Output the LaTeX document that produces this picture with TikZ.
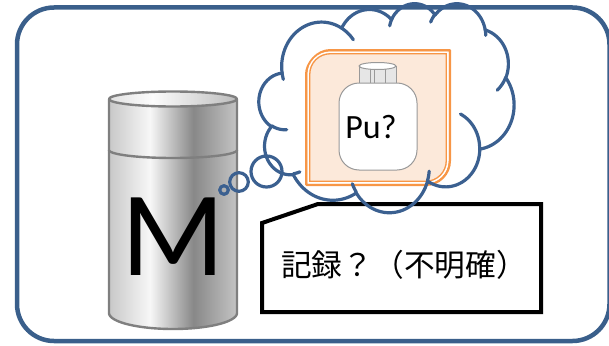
\documentclass[tikz,border=0pt]{standalone}
\usepackage{fontspec}
\newfontfamily\latinfont{Carlito}
\newfontfamily\jpfont{Noto Sans CJK JP}

\definecolor{frameblue}{HTML}{3A5F8B}
\definecolor{cloudblue}{HTML}{3B6090}
\definecolor{boxorange}{HTML}{F79646}
\definecolor{boxfill}{HTML}{FCE9DA}
\definecolor{cylA}{HTML}{C8C8C8}
\definecolor{cylB}{HTML}{F7F7F7}
\definecolor{cylC}{HTML}{888888}
\definecolor{cylD}{HTML}{C4C4C4}
\definecolor{topA}{HTML}{E2E2E2}
\definecolor{topB}{HTML}{FCFCFC}
\definecolor{topC}{HTML}{BDBDBD}
\definecolor{cylline}{HTML}{7F7F7F}
\definecolor{capgray}{HTML}{E6E6E6}

% metallic side and top of the drum
\pgfdeclarehorizontalshading{cylbody}{100bp}{color(0bp)=(cylA); color(25bp)=(cylA); color(41bp)=(cylB); color(58bp)=(cylC); color(75bp)=(cylD); color(100bp)=(cylD)}
\pgfdeclarehorizontalshading{cyltop}{100bp}{color(0bp)=(topA); color(25bp)=(topA); color(42bp)=(topB); color(75bp)=(topC); color(100bp)=(topC)}

% ---- cloud outline built from elliptical arcs (units of 1/100 of the 43200 grid)
\newcommand\cldL{259}
\newcommand\cldT{3}
\pgfmathsetmacro\cldsx{255/432}
\pgfmathsetmacro\cldsy{209/432}
% #1 path macro, #2 connector, #3 wR, #4 hR, #5 start angle, #6 sweep
\newcommand\cldarc[6]{%
  \pgfmathsetmacro\cldta{atan2((#3)*sin(#5),(#4)*cos(#5))}%
  \pgfmathsetmacro\cldtb{atan2((#3)*sin((#5)+(#6)),(#4)*cos((#5)+(#6)))}%
  \pgfmathsetmacro\cldts{\cldtb-\cldta}%
  \pgfmathsetmacro\cldts{((#6)>0 && \cldts<0) ? \cldts+360 : (((#6)<0 && \cldts>0) ? \cldts-360 : \cldts)}%
  \pgfmathsetmacro\cldcx{\cldpx-(#3)*cos(\cldta)}%
  \pgfmathsetmacro\cldcy{\cldpy-(#4)*sin(\cldta)}%
  \pgfmathsetmacro\cldpx{\cldcx+(#3)*cos(\cldta+\cldts)}%
  \pgfmathsetmacro\cldpy{\cldcy+(#4)*sin(\cldta+\cldts)}%
  \pgfmathsetmacro\cldCX{\cldL+\cldsx*\cldcx}%
  \pgfmathsetmacro\cldCY{\cldT+\cldsy*\cldcy}%
  \pgfmathsetmacro\cldRX{\cldsx*(#3)}%
  \pgfmathsetmacro\cldRY{\cldsy*(#4)}%
  \pgfmathsetmacro\cldte{\cldta+\cldts}%
  \edef#1{\unexpanded\expandafter{#1} #2 plot[domain=\cldta:\cldte,samples=30] ({\cldCX+\cldRX*cos(\noexpand\x)},{\cldCY+\cldRY*sin(\noexpand\x)})}%
}
\newcommand\cldfrom[2]{\def\cldpx{#1}\def\cldpy{#2}}

\cldfrom{39}{143.7}
\pgfmathsetmacro\cldSX{\cldL+\cldsx*\cldpx}
\pgfmathsetmacro\cldSY{\cldT+\cldsy*\cldpy}
\edef\cldmain{(\cldSX,\cldSY)}
\cldarc{\cldmain}{--}{67.53}{91.90}{-190.48748}{123.78053}
\cldarc{\cldmain}{--}{53.33}{72.67}{-144.10238}{89.94523}
\cldarc{\cldmain}{--}{43.65}{59.45}{-145.80792}{99.72302}
\cldarc{\cldmain}{--}{48.57}{65.95}{-130.98607}{117.24173}
\cldarc{\cldmain}{--}{53.33}{72.73}{-78.70888}{109.02692}
\cldarc{\cldmain}{--}{67.75}{92.20}{-46.26725}{130.269}
\cldarc{\cldmain}{--}{57.85}{78.67}{0.62502}{114.03333}
\cldarc{\cldmain}{--}{67.52}{92.15}{22.4516}{115.17255}
\cldarc{\cldmain}{--}{77.20}{105.43}{66.24263}{75.71102}
\cldarc{\cldmain}{--}{43.60}{59.18}{-274.94208}{146.73557}
\cldarc{\cldmain}{--}{43.45}{59.45}{-246.8285}{152.51885}

% inner folds of the cloud
\def\cldfold{}
\cldfrom{46.93}{261.77}\cldarc{\cldfold}{}{43.45}{59.45}{86.742}{26.4295}
\cldfrom{69.28}{348.99}\cldarc{\cldfold}{}{43.60}{59.18}{73.61047}{11.44747}
\cldfrom{164.78}{390.90}\cldarc{\cldfold}{}{67.52}{92.15}{137.62415}{14.0811}
\cldfrom{288.27}{347.51}\cldarc{\cldfold}{}{67.52}{92.15}{6.45327}{15.99835}
\cldfrom{341.29}{229.54}\cldarc{\cldfold}{}{57.85}{78.67}{-70.29235}{70.91737}
\cldfrom{417.98}{153.54}\cldarc{\cldfold}{}{53.33}{72.73}{30.31803}{27.7515}
\cldfrom{383.24}{54.26}\cldarc{\cldfold}{}{48.57}{65.95}{-13.74433}{14.8589}
\cldfrom{290.78}{39.52}\cldarc{\cldfold}{}{48.57}{65.95}{-149.18145}{18.19537}
\cldfrom{221.41}{47.20}\cldarc{\cldfold}{}{43.65}{59.45}{-163.49427}{17.68635}
\cldfrom{140.05}{52.02}\cldarc{\cldfold}{}{67.53}{91.90}{-66.70695}{20.92568}
\cldfrom{41.27}{157.89}\cldarc{\cldfold}{}{67.53}{91.90}{-202.35}{11.86}

\tikzset{
  frameline/.style={draw=frameblue, line width=4.5pt},
  cloudline/.style={draw=cloudblue, line width=3.2pt, line join=round, line cap=round},
  drumline/.style={draw=cylline, line width=2.4pt, line join=round},
  calloutline/.style={draw=black, line width=4pt, line join=miter, fill=white},
  bottleline/.style={draw=cylline!80, line width=1pt},
}

\begin{document}
\begin{tikzpicture}[x=1pt, y=-1pt]
\useasboundingbox (0,0) rectangle (609,345);

% outer frame
\draw[frameline, rounded corners=37pt] (17,7.5) rectangle (609.5,341);

% drum
\path[shading=cylbody] (109,99) -- (109,313)
  -- plot[domain=180:360, samples=60] ({173+64*cos(\x)},{313-16*sin(\x)})
  -- (237,99)
  -- plot[domain=0:180, samples=60] ({173+64*cos(\x)},{99-7.5*sin(\x)}) -- cycle;
\draw[drumline] (109,99) -- (109,313)
  -- plot[domain=180:360, samples=60] ({173+64*cos(\x)},{313-16*sin(\x)})
  -- (237,99);
\path[shading=cyltop] (173,99) ellipse [x radius=64, y radius=7.5];
\draw[drumline] (173,99) ellipse [x radius=64, y radius=7.5];
\draw[drumline] plot[domain=180:360, samples=60] ({173+64*cos(\x)},{150-8*sin(\x)});
\node[font=\latinfont\fontsize{121}{121}\selectfont, inner sep=0pt, anchor=base] (drumlabel) at (173,275) {M};

% record callout
\draw[calloutline] (262,223) -- (318,204) -- (541,204) -- (541,312) -- (262,312) -- cycle;
\node[font=\jpfont\fontsize{30.7}{32}\selectfont, inner sep=0pt, anchor=base] (note) at (404,276) {記録？（不明確）};

% orange panel with double border
\fill[boxfill] (306.25,74.25) .. controls (306.25,63.51) and (316.99,50.25) .. (330.25,50.25) -- (449.75,50.25) -- (449.75,160.75) .. controls (449.75,173.99) and (439.01,184.75) .. (425.75,184.75) -- (306.25,184.75) -- cycle;
\draw[boxorange, line width=2.5pt, line join=round] (306.25,74.25) .. controls (306.25,63.51) and (316.99,50.25) .. (330.25,50.25) -- (449.75,50.25) -- (449.75,160.75) .. controls (449.75,173.99) and (439.01,184.75) .. (425.75,184.75) -- (306.25,184.75) -- cycle;
\draw[white, line width=1.5pt] (308.25,74.25) .. controls (308.25,62.4) and (318.1,52.25) .. (330.25,52.25) -- (447.75,52.25) -- (447.75,160.75) .. controls (447.75,172.9) and (437.9,182.75) .. (425.75,182.75) -- (308.25,182.75) -- cycle;
\draw[boxorange, line width=1.3pt] (309.75,74.25) .. controls (309.75,62.93) and (318.93,53.75) .. (330.25,53.75) -- (446.25,53.75) -- (446.25,160.75) .. controls (446.25,172.07) and (437.07,181.25) .. (425.75,181.25) -- (309.75,181.25) -- cycle;

% bottle
\draw[bottleline, fill=capgray] (359,66) -- (359,84) -- (396,84) -- (396,66);
\draw[bottleline, fill=white, rounded corners=20pt] (339,83) rectangle (417,170);
\draw[bottleline, fill=white] (377.5,66) ellipse [x radius=18.5, y radius=3.5];
\draw[bottleline] (370,69.3) -- (370,83) (374,69.5) -- (374,83) (385,69.3) -- (385,83);
\node[font=\latinfont\fontsize{34}{34}\selectfont, inner sep=0pt, anchor=base] (pu) at (371,138) {Pu?};

% thought cloud
\edef\cldrun{\noexpand\draw[cloudline] \unexpanded\expandafter{\cldmain} -- cycle;}\cldrun
\edef\cldrun{\noexpand\draw[cloudline] \unexpanded\expandafter{\cldfold};}\cldrun
\draw[cloudline] (224,190) circle[radius=4.3];
\draw[cloudline] (239,182) circle[radius=9.3];
\draw[cloudline] (266.5,171.5) circle[radius=15.5];
\end{tikzpicture}
\end{document}
